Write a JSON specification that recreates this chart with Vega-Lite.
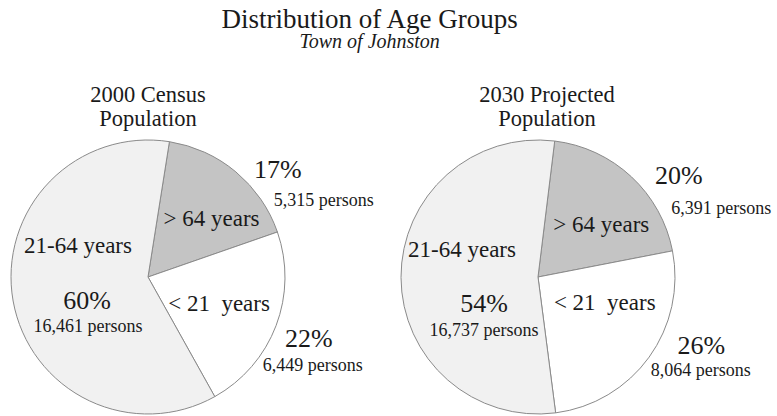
{
  "$schema": "https://vega.github.io/schema/vega-lite/v6.json",
  "padding": {"left": 0, "top": 5, "right": 0, "bottom": 0},
  "background": "white",
  "bounds": "flush",
  "title": {
    "text": "Distribution of Age Groups",
    "subtitle": "Town of Johnston",
    "font": "Liberation Serif",
    "fontSize": 27,
    "fontWeight": "normal",
    "color": "#1a1a1a",
    "subtitleFont": "Liberation Serif",
    "subtitleFontSize": 20,
    "subtitleFontStyle": "italic",
    "subtitleColor": "#1a1a1a",
    "subtitlePadding": -2,
    "anchor": "middle",
    "frame": "bounds",
    "dx": -16,
    "offset": 31
  },
  "datasets": {
    "census2000": [
      {"group": ">64", "name": "> 64 years", "pct": 17, "pctLabel": "17%", "persons": 5315, "personsLabel": "5,315 persons", "ord": 1},
      {"group": "<21", "name": "< 21\u00a0 years", "pct": 22, "pctLabel": "22%", "persons": 6449, "personsLabel": "6,449 persons", "ord": 2},
      {"group": "21-64", "name": "21-64 years", "pct": 60, "pctLabel": "60%", "persons": 16461, "personsLabel": "16,461 persons", "ord": 3}
    ],
    "proj2030": [
      {"group": ">64", "name": "> 64 years", "pct": 20, "pctLabel": "20%", "persons": 6391, "personsLabel": "6,391 persons", "ord": 1},
      {"group": "<21", "name": "< 21\u00a0 years", "pct": 26, "pctLabel": "26%", "persons": 8064, "personsLabel": "8,064 persons", "ord": 2},
      {"group": "21-64", "name": "21-64 years", "pct": 54, "pctLabel": "54%", "persons": 16737, "personsLabel": "16,737 persons", "ord": 3}
    ]
  },
  "hconcat": [
    {
      "width": 296,
      "height": 276,
      "data": {"name": "census2000"},
      "title": {"text": ["2000 Census", "Population"], "font": "Liberation Serif", "fontSize": 22.5, "fontWeight": "normal", "lineHeight": 24, "color": "#1a1a1a", "anchor": "middle", "offset": 8},
      "encoding": {
        "theta": {"field": "pct", "type": "quantitative", "stack": true, "scale": {"range": [0.1571, 6.4403]}},
        "order": {"field": "ord", "type": "quantitative"}
      },
      "layer": [
        {"mark": {"type": "arc", "radius": 137, "stroke": "#8a8a8a", "strokeWidth": 1},
         "encoding": {"color": {"field": "group", "type": "nominal", "scale": {"domain": [">64", "<21", "21-64"], "range": ["#c4c4c4", "#ffffff", "#f1f1f1"]}, "legend": null}}},
        {"mark": {"type": "text", "radius": {"expr": "datum.group === '>64' ? 85 : 0"}, "dx": 9, "dy": 7, "fontSize": 23, "font": "Liberation Serif", "color": "#1a1a1a"},
         "encoding": {"text": {"condition": {"test": "datum.group === '>64'", "field": "name"}, "value": ""}}},
        {"mark": {"type": "text", "radius": {"expr": "datum.group === '<21' ? 76 : 0"}, "dx": 0, "dy": 0, "fontSize": 23, "font": "Liberation Serif", "color": "#1a1a1a"},
         "encoding": {"text": {"condition": {"test": "datum.group === '<21'", "field": "name"}, "value": ""}}},
        {"mark": {"type": "text", "radius": {"expr": "datum.group === '21-64' ? 64 : 0"}, "dx": -7, "dy": -42, "fontSize": 23, "font": "Liberation Serif", "color": "#1a1a1a"},
         "encoding": {"text": {"condition": {"test": "datum.group === '21-64'", "field": "name"}, "value": ""}}},
        {"mark": {"type": "text", "radius": {"expr": "datum.group === '21-64' ? 64 : 0"}, "dx": 2, "dy": 13, "fontSize": 26, "font": "Liberation Serif", "color": "#1a1a1a"},
         "encoding": {"text": {"condition": {"test": "datum.group === '21-64'", "field": "pctLabel"}, "value": ""}}},
        {"mark": {"type": "text", "radius": {"expr": "datum.group === '21-64' ? 64 : 0"}, "dx": 3, "dy": 39, "fontSize": 18, "font": "Liberation Serif", "color": "#1a1a1a"},
         "encoding": {"text": {"condition": {"test": "datum.group === '21-64'", "field": "personsLabel"}, "value": ""}}},
        {"mark": {"type": "text", "radius": {"expr": "datum.group === '>64' ? 165 : 0"}, "dx": 24, "dy": 20, "fontSize": 26, "font": "Liberation Serif", "color": "#1a1a1a"},
         "encoding": {"text": {"condition": {"test": "datum.group === '>64'", "field": "pctLabel"}, "value": ""}}},
        {"mark": {"type": "text", "radius": {"expr": "datum.group === '>64' ? 171 : 0"}, "dx": 66, "dy": 55, "fontSize": 18, "font": "Liberation Serif", "color": "#1a1a1a"},
         "encoding": {"text": {"condition": {"test": "datum.group === '>64'", "field": "personsLabel"}, "value": ""}}},
        {"mark": {"type": "text", "radius": {"expr": "datum.group === '<21' ? 172 : 0"}, "dx": 0, "dy": 1, "fontSize": 26, "font": "Liberation Serif", "color": "#1a1a1a"},
         "encoding": {"text": {"condition": {"test": "datum.group === '<21'", "field": "pctLabel"}, "value": ""}}},
        {"mark": {"type": "text", "radius": {"expr": "datum.group === '<21' ? 186 : 0"}, "dx": -9, "dy": 23, "fontSize": 18, "font": "Liberation Serif", "color": "#1a1a1a"},
         "encoding": {"text": {"condition": {"test": "datum.group === '<21'", "field": "personsLabel"}, "value": ""}}}
      ]
    },
    {
      "width": 296,
      "height": 276,
      "data": {"name": "proj2030"},
      "title": {"text": ["2030 Projected", "Population"], "font": "Liberation Serif", "fontSize": 22.5, "fontWeight": "normal", "lineHeight": 24, "color": "#1a1a1a", "anchor": "middle", "offset": 8, "dx": 9},
      "encoding": {
        "theta": {"field": "pct", "type": "quantitative", "stack": true, "scale": {"range": [0.1222, 6.4054]}},
        "order": {"field": "ord", "type": "quantitative"}
      },
      "layer": [
        {"mark": {"type": "arc", "radius": 137, "stroke": "#8a8a8a", "strokeWidth": 1},
         "encoding": {"color": {"field": "group", "type": "nominal", "scale": {"domain": [">64", "<21", "21-64"], "range": ["#c4c4c4", "#ffffff", "#f1f1f1"]}, "legend": null}}},
        {"mark": {"type": "text", "radius": {"expr": "datum.group === '>64' ? 81 : 0"}, "dx": 8, "dy": 7, "fontSize": 23, "font": "Liberation Serif", "color": "#1a1a1a"},
         "encoding": {"text": {"condition": {"test": "datum.group === '>64'", "field": "name"}, "value": ""}}},
        {"mark": {"type": "text", "radius": {"expr": "datum.group === '<21' ? 70 : 0"}, "dx": 10, "dy": -15, "fontSize": 23, "font": "Liberation Serif", "color": "#1a1a1a"},
         "encoding": {"text": {"condition": {"test": "datum.group === '<21'", "field": "name"}, "value": ""}}},
        {"mark": {"type": "text", "radius": {"expr": "datum.group === '21-64' ? 60 : 0"}, "dx": -16, "dy": -27, "fontSize": 23, "font": "Liberation Serif", "color": "#1a1a1a"},
         "encoding": {"text": {"condition": {"test": "datum.group === '21-64'", "field": "name"}, "value": ""}}},
        {"mark": {"type": "text", "radius": {"expr": "datum.group === '21-64' ? 60 : 0"}, "dx": 6, "dy": 27, "fontSize": 26, "font": "Liberation Serif", "color": "#1a1a1a"},
         "encoding": {"text": {"condition": {"test": "datum.group === '21-64'", "field": "pctLabel"}, "value": ""}}},
        {"mark": {"type": "text", "radius": {"expr": "datum.group === '21-64' ? 60 : 0"}, "dx": 6, "dy": 54, "fontSize": 18, "font": "Liberation Serif", "color": "#1a1a1a"},
         "encoding": {"text": {"condition": {"test": "datum.group === '21-64'", "field": "personsLabel"}, "value": ""}}},
        {"mark": {"type": "text", "radius": {"expr": "datum.group === '>64' ? 170 : 0"}, "dx": 25, "dy": 23, "fontSize": 26, "font": "Liberation Serif", "color": "#1a1a1a"},
         "encoding": {"text": {"condition": {"test": "datum.group === '>64'", "field": "pctLabel"}, "value": ""}}},
        {"mark": {"type": "text", "radius": {"expr": "datum.group === '>64' ? 175 : 0"}, "dx": 64, "dy": 60, "fontSize": 18, "font": "Liberation Serif", "color": "#1a1a1a"},
         "encoding": {"text": {"condition": {"test": "datum.group === '>64'", "field": "personsLabel"}, "value": ""}}},
        {"mark": {"type": "text", "radius": {"expr": "datum.group === '<21' ? 173 : 0"}, "dx": 23, "dy": -32, "fontSize": 26, "font": "Liberation Serif", "color": "#1a1a1a"},
         "encoding": {"text": {"condition": {"test": "datum.group === '<21'", "field": "pctLabel"}, "value": ""}}},
        {"mark": {"type": "text", "radius": {"expr": "datum.group === '<21' ? 187 : 0"}, "dx": 11, "dy": -15, "fontSize": 18, "font": "Liberation Serif", "color": "#1a1a1a"},
         "encoding": {"text": {"condition": {"test": "datum.group === '<21'", "field": "personsLabel"}, "value": ""}}}
      ]
    }
  ],
  "spacing": 94,
  "config": {"view": {"stroke": null}}
}
